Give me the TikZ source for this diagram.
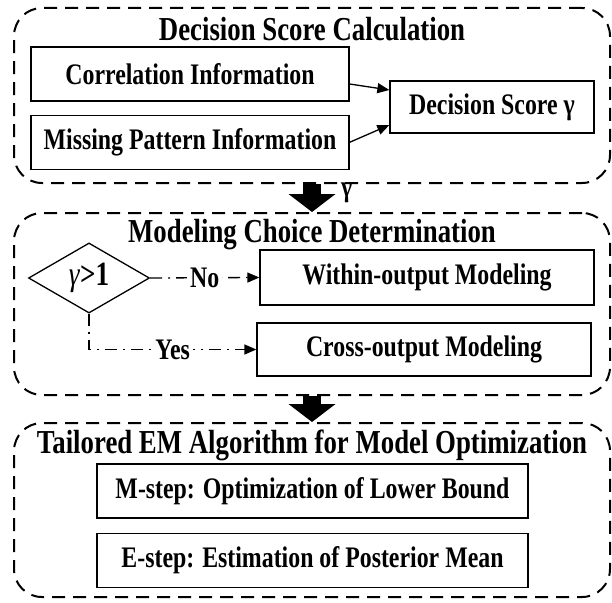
\documentclass[tikz,border=0pt]{standalone}
\usepackage{fontspec}
\setmainfont{Liberation Serif}[FakeStretch=0.8]
\usetikzlibrary{arrows.meta,positioning,shapes.geometric}

\begin{document}
\begin{tikzpicture}[x=1pt,y=-1pt,>={Triangle[length=12pt,width=10pt]},
 frame/.style={draw,line width=2pt,dash pattern=on 13pt off 8pt,rounded corners=28pt,minimum width=596pt,inner sep=0pt},
 head/.style={font=\fontsize{33.5}{38}\selectfont\bfseries,inner sep=0pt},
 box/.style={draw,line width=1.3pt,inner sep=0pt,font=\fontsize{29.8}{34}\selectfont\bfseries},
 label/.style={font=\fontsize{29.8}{34}\selectfont\bfseries,fill=white,inner sep=3pt},
 arrow/.style={->,line width=1.3pt},
 flow/.style={->,line width=1.3pt,dash pattern=on 12pt off 6pt on 2pt off 6pt},
 fat/.style={-{Triangle[length=18pt,width=47pt,line width=0pt]},line width=18pt}]
\useasboundingbox (0,0) rectangle (612,602);
% three stages
\node[frame,minimum height=175pt] (stage1) at (312,95.5) {};
\node[frame,minimum height=182pt] (stage2) at (312,304) {};
\node[frame,minimum height=174pt] (stage3) at (312,510) {};
% stage 1
\node[head] (title1) at (312,29) {Decision Score Calculation};
\node[box,minimum width=318pt,minimum height=54pt] (corr) at (190,74) {Correlation Information};
\node[box,minimum width=318pt,minimum height=54pt,below=13pt of corr] (miss) {Missing Pattern Information};
\node[box,minimum width=204pt,minimum height=52pt] (score) at (492,107) {Decision Score γ};
\draw[arrow] ([yshift=-10pt]corr.east) -- ([yshift=17pt]score.west);
\draw[arrow] (miss.east) -- ([yshift=-18pt]score.west);
% stage 2
\node[head] (title2) at (312,235) {Modeling Choice Determination};
\node[diamond,draw,line width=1.3pt,inner sep=0pt,minimum width=121pt,minimum height=54pt,font=\fontsize{34}{38}\selectfont] (choice) at (89,278) {\textit{γ}\textbf{>1}};
\node[box,minimum width=334pt,minimum height=55pt] (within) at (427,277.5) {Within-output Modeling};
\node[box,minimum width=334pt,minimum height=53pt] (cross) at (424,349.5) {Cross-output Modeling};
\draw[flow] (choice.east) -- node[label] {No} (within.west);
\draw[flow] (choice.south) |- node[label,pos=0.75] {Yes} (cross.west);
% stage 3
\node[head] (title3) at (312,445) {Tailored EM Algorithm for Model Optimization};
\node[box,minimum width=431pt,minimum height=54pt] (mstep) at (312.5,491) {M-step: Optimization of Lower Bound};
\node[box,minimum width=431pt,minimum height=54pt,below=14pt of mstep] (estep) {E-step: Estimation of Posterior Mean};
% between stages
\draw[fat] (stage1.south) -- node[pos=0.3,right=20pt,font=\fontsize{29.8}{34}\selectfont\bfseries,inner sep=0pt] {γ} (stage2.north);
\draw[fat] (stage2.south) -- (stage3.north);
\end{tikzpicture}
\end{document}
